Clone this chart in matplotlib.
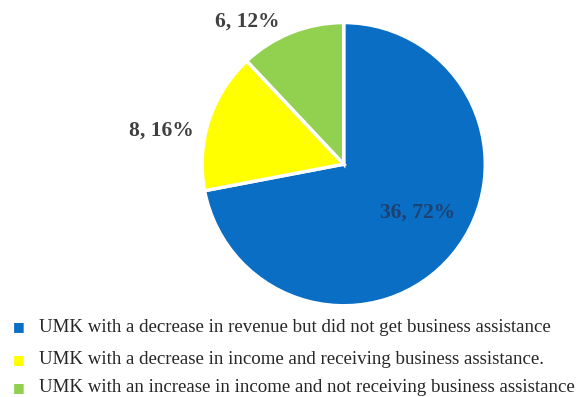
import matplotlib
matplotlib.use('Agg')
import matplotlib.pyplot as plt

plt.rcParams['font.family'] = ['Liberation Serif', 'DejaVu Serif']

# dados do grafico
categorias = [
    "UMK with a decrease in revenue but did not get business assistance",
    "UMK with a decrease in income and receiving business assistance.",
    "UMK with an increase in income and not receiving business assistance",
]
valores = [36, 8, 6]
cores = ["#0a6ec4", "#ffff00", "#92d050"]

total = sum(valores)

fig = plt.figure(figsize=(5.84, 3.97), dpi=100)
ax = fig.add_axes([0.346, 0.229, 0.485, 0.715])

wedges, _ = ax.pie(valores, colors=cores, startangle=90, counterclock=False,
                   wedgeprops=dict(edgecolor='white', linewidth=2.5))
ax.set_xlim(-1, 1)
ax.set_ylim(-1, 1)
ax.set_aspect('equal')

# rotulos "valor, pct"
rotulos = [f"{v}, {round(v / total * 100)}%" for v in valores]
posicoes = [(0.52, -0.345), (-1.29, 0.24), (-0.68, 1.01)]
cores_txt = ["#1d4170", "#404040", "#404040"]
for txt, (x, y), c in zip(rotulos, posicoes, cores_txt):
    ax.text(x, y, txt, ha='center', va='center', fontsize=15.5, fontweight='bold',
            color=c, clip_on=False)

# legenda embaixo, uma linha por categoria
linhas_y = [327, 360, 388]
for cat, c, yp in zip(categorias, cores, linhas_y):
    yf = 1 - yp / 397
    fig.text(19 / 584, yf, "\u25A0", ha='center', va='center', fontsize=9,
             color=c, family='DejaVu Sans')
    fig.text(39 / 584, yf, cat, ha='left', va='center', fontsize=13.6,
             color='#262626')

fig.savefig('out.png', dpi=100)
